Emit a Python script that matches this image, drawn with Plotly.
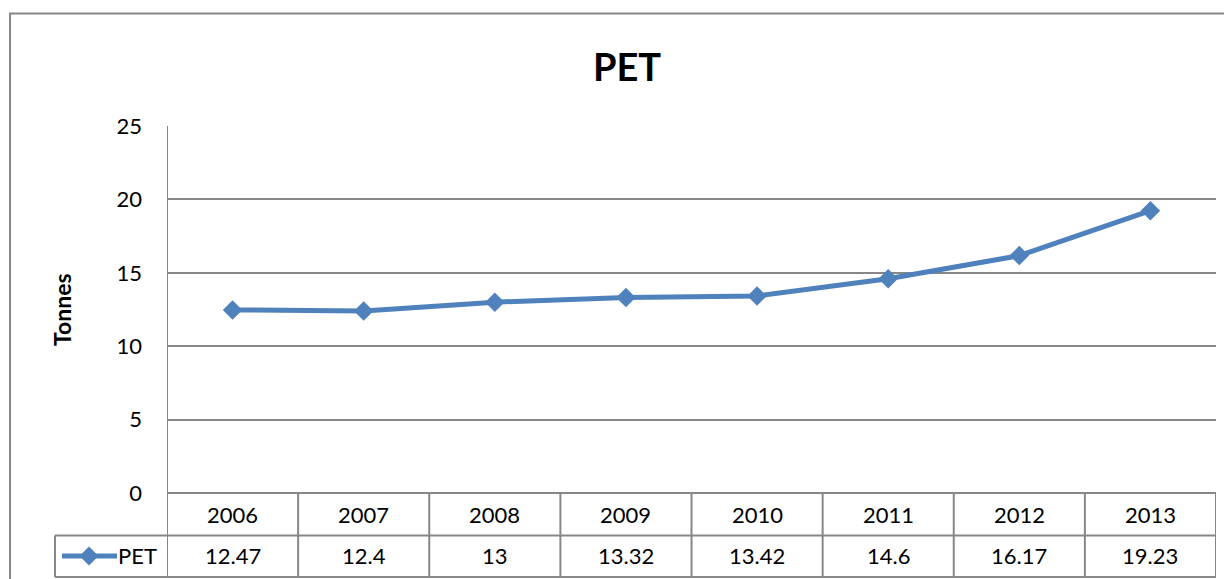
import plotly.graph_objects as go

years = ["2006", "2007", "2008", "2009", "2010", "2011", "2012", "2013"]
pet_values = [12.47, 12.4, 13, 13.32, 13.42, 14.6, 16.17, 19.23]
value_labels = ["12.47", "12.4", "13", "13.32", "13.42", "14.6", "16.17", "19.23"]
series_name = "PET"
y_ticks = [0, 5, 10, 15, 20, 25]

# page body has an 8px margin; work in screen pixels and convert
OFF = 8
W, H = 1232 - OFF, 579 - OFF
L, R, T, B = 167 - OFF, 16, 126 - OFF, 86
PW = W - L - R
PH = H - T - B

def px_x(x):
    return (x - OFF - L) / PW

def px_y(y):
    return (H - B - (y - OFF)) / PH

LINE_C = "#4F81BD"
GRID_C = "#878787"
FONT = "Lato"

fig = go.Figure()
fig.add_trace(go.Scatter(
    x=list(range(len(years))), y=pet_values, mode="lines+markers",
    line=dict(color=LINE_C, width=5),
    marker=dict(symbol="diamond", size=15, color=LINE_C),
    name=series_name, showlegend=False, cliponaxis=False,
))

shapes = []
n = len(years)
# outer chart border
shapes.append(dict(type="rect", xref="paper", yref="paper",
                   x0=px_x(10), x1=px_x(1260), y0=px_y(620), y1=px_y(13.5),
                   line=dict(color=GRID_C, width=2), layer="below"))
# y axis line extended through table
shapes.append(dict(type="line", xref="x", yref="paper", x0=-0.5, x1=-0.5,
                   y0=px_y(577), y1=1, line=dict(color=GRID_C, width=2)))
# vertical table lines
for i in range(1, n + 1):
    shapes.append(dict(type="line", xref="x", yref="paper", x0=i - 0.5, x1=i - 0.5,
                       y0=px_y(577), y1=0, line=dict(color=GRID_C, width=2)))
# horizontal table lines
shapes.append(dict(type="line", xref="x", yref="paper", x0=-0.5, x1=n - 0.5,
                   y0=0, y1=0, line=dict(color=GRID_C, width=2)))
for yy in (535.5, 577):
    shapes.append(dict(type="line", xref="paper", yref="paper", x0=px_x(55), x1=1,
                       y0=px_y(yy), y1=px_y(yy), line=dict(color=GRID_C, width=2)))
# legend cell left edge
shapes.append(dict(type="line", xref="paper", yref="paper", x0=px_x(55), x1=px_x(55),
                   y0=px_y(577), y1=px_y(535.5), line=dict(color=GRID_C, width=2)))
# legend glyph
ly = 556
shapes.append(dict(type="line", xref="paper", yref="paper", x0=px_x(62), x1=px_x(117),
                   y0=px_y(ly), y1=px_y(ly), line=dict(color=LINE_C, width=5)))
cx, cy, r = 89, ly, 9.5
path = "M {} {} L {} {} L {} {} L {} {} Z".format(
    px_x(cx - r), px_y(cy), px_x(cx), px_y(cy - r), px_x(cx + r), px_y(cy), px_x(cx), px_y(cy + r))
shapes.append(dict(type="path", xref="paper", yref="paper", path=path,
                   fillcolor=LINE_C, line=dict(color=LINE_C, width=0)))

annotations = []
for i in range(n):
    annotations.append(dict(x=i, y=px_y(514), xref="x", yref="paper", text=years[i],
                            showarrow=False, font=dict(family=FONT, size=22, color="black"),
                            xanchor="center", yanchor="middle"))
    annotations.append(dict(x=i, y=px_y(555), xref="x", yref="paper", text=value_labels[i],
                            showarrow=False, font=dict(family=FONT, size=22, color="black"),
                            xanchor="center", yanchor="middle"))
annotations.append(dict(x=px_x(159), y=px_y(555), xref="paper", yref="paper", text=series_name,
                        showarrow=False, font=dict(family=FONT, size=22, color="black"),
                        xanchor="right", yanchor="middle"))
annotations.append(dict(x=px_x(627), y=px_y(66), xref="paper", yref="paper", text="<b>PET</b>",
                        showarrow=False, font=dict(family=FONT, size=38, color="black"),
                        xanchor="center", yanchor="middle"))
annotations.append(dict(x=px_x(62), y=px_y(310), xref="paper", yref="paper", text="<b>Tonnes</b>",
                        showarrow=False, textangle=-90, font=dict(family=FONT, size=23, color="black"),
                        xanchor="center", yanchor="middle"))

fig.update_layout(
    width=W, height=H,
    margin=dict(l=L, r=R, t=T, b=B),
    paper_bgcolor="white", plot_bgcolor="white",
    shapes=shapes, annotations=annotations,
    showlegend=False,
    xaxis=dict(range=[-0.5, n - 0.5], showgrid=False, showticklabels=False,
               zeroline=False, showline=False, ticks=""),
    yaxis=dict(range=[0, 25], tickvals=y_ticks, showgrid=True, gridcolor=GRID_C, gridwidth=2,
               zeroline=False, showline=False, ticks="",
               ticklabelstandoff=24,
               tickfont=dict(family=FONT, size=22, color="black")),
)

fig.write_html("out.html")
